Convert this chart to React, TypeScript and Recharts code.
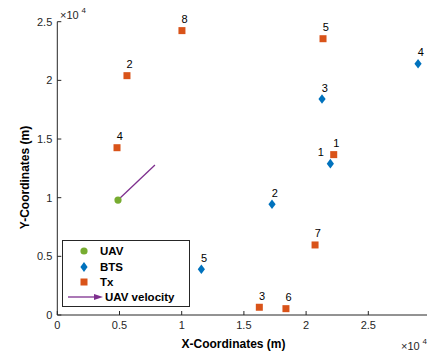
import React from 'react';
import { ScatterChart, Scatter, XAxis, YAxis, ReferenceLine, Legend } from 'recharts';

// positions in metres (axes are in units of 1e4)
const txLabels = ['1', '2', '3', '4', '5', '6', '7', '8'];
const txX = [22220, 5600, 16240, 4800, 21360, 18380, 20720, 10020];
const txY = [13670, 20400, 660, 14260, 23550, 540, 5970, 24240];

const btsLabels = ['1', '2', '3', '4', '5'];
const btsX = [21950, 17260, 21280, 29000, 11580];
const btsY = [12900, 9440, 18410, 21420, 3900];

const uavX = [4880];
const uavY = [9800];

// start and end of the UAV velocity vector
const velX = [4880, 7850];
const velY = [9800, 12790];

const xTicks = [0, 5000, 10000, 15000, 20000, 25000, 30000];
const yTicks = [0, 5000, 10000, 15000, 20000, 25000];

const TX = '#D95319';
const BTS = '#0072BD';
const UAV = '#77AC30';
const VEL = '#7E2F8E';
const AXIS = '#262626';
const FONT = '"Liberation Sans", Arial, Helvetica, sans-serif';

const txData = txX.map((x, i) => ({ x, y: txY[i], label: txLabels[i] }));
const btsData = btsX.map((x, i) => ({ x, y: btsY[i], label: btsLabels[i] }));
const uavData = uavX.map((x, i) => ({ x, y: uavY[i] }));

const fmt = (v: number) => String(v / 10000);

function PointLabel({ cx, cy, text, dx = 2.7 }: any) {
  return (
    <text x={cx + dx} y={cy - 7.5} textAnchor="middle" fontSize={11} fill="#000" fontFamily={FONT}>
      {text}
    </text>
  );
}

const TxShape = (props: any) => {
  const { cx, cy, payload } = props;
  return (
    <g>
      <rect x={cx - 3.5} y={cy - 3.5} width={7} height={7} fill={TX} />
      <PointLabel cx={cx} cy={cy} text={payload.label} />
    </g>
  );
};

const BtsShape = (props: any) => {
  const { cx, cy, payload } = props;
  // BTS 1 sits right under Tx 1, so its number is put to the left
  const dx = payload.label === '1' ? -9.6 : 2.7;
  return (
    <g>
      <polygon points={`${cx},${cy - 4.8} ${cx + 3.6},${cy} ${cx},${cy + 4.8} ${cx - 3.6},${cy}`} fill={BTS} />
      <PointLabel cx={cx} cy={cy} text={payload.label} dx={dx} />
    </g>
  );
};

const UavShape = (props: any) => {
  const { cx, cy } = props;
  return <circle cx={cx} cy={cy} r={3.6} fill={UAV} />;
};

function LegendBox() {
  const rowText = { fontSize: 11.5, fontWeight: 700, fill: '#000', fontFamily: FONT } as const;
  return (
    <svg width={129} height={68} style={{ display: 'block' }}>
      <rect x={0.5} y={0.5} width={127} height={66} fill="#fff" stroke={AXIS} strokeWidth={1} />
      <circle cx={22} cy={11} r={3.6} fill={UAV} />
      <text x={38} y={15} {...rowText}>UAV</text>
      <polygon points="22,22 25.6,27 22,32 18.4,27" fill={BTS} />
      <text x={38} y={31} {...rowText}>BTS</text>
      <rect x={18.5} y={38.5} width={7} height={7} fill={TX} />
      <text x={38} y={46} {...rowText}>Tx</text>
      <line x1={6} y1={57} x2={36} y2={57} stroke={VEL} strokeWidth={1.3} />
      <polygon points="41,57 32,54 32,60" fill={VEL} />
      <text x={43} y={61} {...rowText}>UAV velocity</text>
    </svg>
  );
}

export default function App() {
  return (
    <div style={{ position: 'absolute', left: 0, top: 0, width: 427, height: 356, overflow: 'hidden', background: '#fff' }}>
      <ScatterChart
        width={431}
        height={356}
        margin={{ top: 21.7, right: 0.5, bottom: 0, left: 0 }}
        style={{ fontFamily: FONT }}
      >
        <XAxis
          type="number"
          dataKey="x"
          domain={[0, 30000]}
          ticks={xTicks}
          interval={0}
          tickFormatter={fmt}
          height={41}
          tickSize={-4}
          tickMargin={10}
          axisLine={{ stroke: AXIS, strokeWidth: 1 }}
          tickLine={{ stroke: AXIS, strokeWidth: 1 }}
          tick={{ fontSize: 11, fill: AXIS, fontFamily: FONT }}
        />
        <YAxis
          type="number"
          dataKey="y"
          domain={[0, 25000]}
          ticks={yTicks}
          interval={0}
          tickFormatter={fmt}
          width={57.3}
          tickSize={-4}
          tickMargin={9}
          axisLine={{ stroke: AXIS, strokeWidth: 1 }}
          tickLine={{ stroke: AXIS, strokeWidth: 1 }}
          tick={{ fontSize: 11, fill: AXIS, fontFamily: FONT }}
        />
        <ReferenceLine
          segment={[{ x: velX[0], y: velY[0] }, { x: velX[1], y: velY[1] }]}
          stroke={VEL}
          strokeWidth={1.3}
          ifOverflow="visible"
        />
        <Scatter name="UAV" data={uavData} shape={UavShape} isAnimationActive={false} />
        <Scatter name="BTS" data={btsData} shape={BtsShape} isAnimationActive={false} />
        <Scatter name="Tx" data={txData} shape={TxShape} isAnimationActive={false} />
        <Legend
          layout="vertical"
          align="center"
          verticalAlign="middle"
          wrapperStyle={{ left: 62, top: 240, width: 129, height: 68 }}
          content={() => <LegendBox />}
        />
      </ScatterChart>
      <svg
        width={427}
        height={356}
        style={{ position: 'absolute', left: 0, top: 0, pointerEvents: 'none' }}
        fontFamily={FONT}
      >
        <text x={60} y={19} fontSize={11} fill={AXIS}>×10</text>
        <text x={81.5} y={13} fontSize={8} fill={AXIS}>4</text>
        <text x={401} y={350} fontSize={11} fill={AXIS}>×10</text>
        <text x={422.5} y={344} fontSize={8} fill={AXIS}>4</text>
        <text x={233.5} y={347.5} textAnchor="middle" fontSize={12} fontWeight={700} fill="#000">
          X-Coordinates (m)
        </text>
        <text
          x={28.5}
          y={177.5}
          textAnchor="middle"
          fontSize={12}
          fontWeight={700}
          fill="#000"
          transform="rotate(-90 28.5 177.5)"
        >
          Y-Coordinates (m)
        </text>
      </svg>
    </div>
  );
}
